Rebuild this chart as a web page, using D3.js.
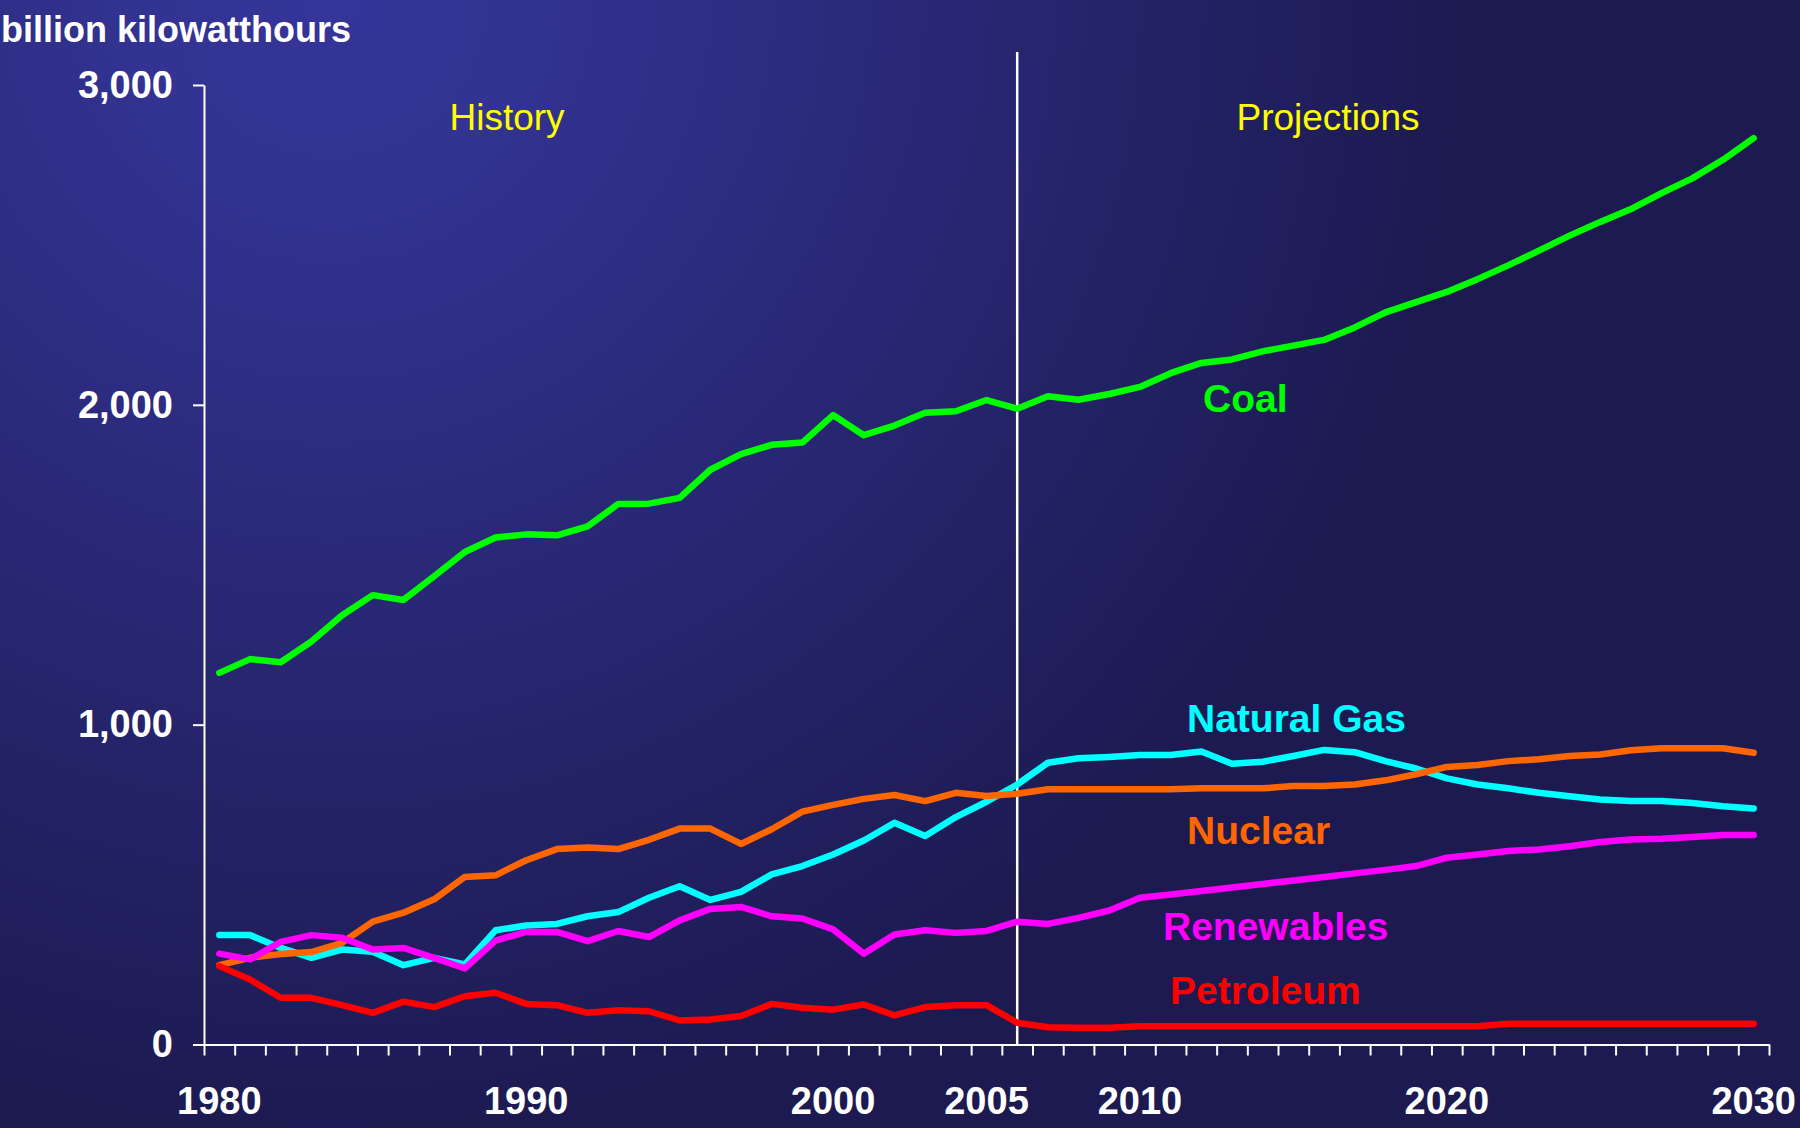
<!DOCTYPE html>
<html>
<head>
<meta charset="utf-8">
<script src="https://cdn.jsdelivr.net/npm/d3@7"></script>
<style>
  body { margin: 0; background: #1c1a50; }
  text { font-family: "Liberation Sans", Arial, Helvetica, sans-serif; }
</style>
</head>
<body>
<svg id="chart"></svg>
<script>
var w = 1800;
var h = 1128;

var years = d3.range(1980, 2031);
var yearLabels = [1980, 1990, 2000, 2005, 2010, 2020, 2030];
var yTicks = [0, 1000, 2000, 3000];

var coal = [1162, 1205, 1195, 1260, 1342, 1405, 1390, 1464, 1540, 1585,
            1595, 1592, 1620, 1690, 1691, 1709, 1797, 1846, 1875, 1882,
            1968, 1905, 1935, 1975, 1980, 2015, 1988, 2027, 2016, 2034,
            2056, 2099, 2131, 2142, 2167, 2185, 2203, 2242, 2289, 2321,
            2353, 2393, 2436, 2482, 2529, 2572, 2612, 2662, 2708, 2766, 2834];
var naturalGas = [342, 342, 302, 271, 297, 290, 248, 271, 250, 357,
                  372, 377, 401, 414, 459, 495, 452, 477, 532, 558,
                  594, 638, 693, 652, 711, 759, 813, 881, 895, 899,
                  905, 905, 916, 878, 884, 902, 921, 914, 886, 863,
                  832, 813, 801, 787, 776, 766, 761, 761, 755, 745, 738];
var nuclear = [248, 271, 283, 289, 318, 384, 412, 454, 524, 529,
               576, 611, 616, 611, 640, 675, 675, 627, 673, 728,
               749, 768, 780, 761, 787, 777, 784, 798, 798, 798,
               798, 798, 801, 801, 801, 808, 808, 813, 826, 845,
               868, 874, 886, 892, 902, 907, 920, 926, 926, 926, 912];
var renewables = [284, 266, 321, 342, 334, 297, 302, 271, 238, 325,
                  352, 352, 323, 355, 336, 388, 424, 430, 401, 394,
                  360, 284, 344, 357, 349, 355, 384, 377, 396, 419,
                  459, 469, 480, 491, 502, 513, 524, 535, 546, 558,
                  584, 594, 605, 610, 620, 633, 641, 643, 649, 655, 655];
var petroleum = [245, 203, 146, 146, 123, 99, 134, 117, 151, 162,
                 127, 123, 99, 107, 104, 75, 78, 89, 127, 115,
                 109, 125, 91, 117, 123, 123, 68, 54, 52, 52,
                 57, 57, 57, 57, 57, 57, 57, 57, 57, 57,
                 57, 57, 65, 65, 65, 65, 65, 65, 65, 65, 65];

var seriesNames = ["Coal", "Natural Gas", "Nuclear", "Renewables", "Petroleum"];
var seriesValues = [coal, naturalGas, nuclear, renewables, petroleum];
var seriesColors = ["#00ff00", "#00ffff", "#ff6600", "#ff00ff", "#ff0000"];

var xLeft = 204, xRight = 1769, yTop = 85, yBottom = 1044.5;

var xScale = d3.scaleBand()
               .domain(years)
               .range([xLeft, xRight])
               .paddingInner(0)
               .paddingOuter(0);

var xEdge = d3.scaleLinear()
              .domain([1979.5, 2030.5])
              .range([xLeft, xRight]);

var yScale = d3.scaleLinear()
               .domain([0, 3000])
               .range([yBottom, yTop]);

function xc(year){
  return xScale(year) + xScale.bandwidth()/2;
}

var svg = d3.select("#chart")
            .attr("width", w)
            .attr("height", h);

// background
var grad = svg.append("defs")
              .append("radialGradient")
              .attr("id", "bg")
              .attr("gradientUnits", "userSpaceOnUse")
              .attr("cx", 330).attr("cy", 0).attr("r", 1150);
grad.append("stop").attr("offset", 0).attr("stop-color", "#35359a");
grad.append("stop").attr("offset", 0.15).attr("stop-color", "#333393");
grad.append("stop").attr("offset", 1).attr("stop-color", "#1c1a50");

svg.append("rect")
   .attr("width", w)
   .attr("height", h)
   .attr("fill", "url(#bg)");

// y axis
var yAxis = d3.axisLeft()
              .scale(yScale)
              .tickValues(yTicks)
              .tickSize(11)
              .tickSizeOuter(0)
              .tickPadding(20)
              .tickFormat(d3.format(","));

svg.append("g")
   .attr("class", "y axis")
   .attr("transform", "translate(" + xLeft + ",0)")
   .call(yAxis);

// x axis: ticks on year boundaries
var xTickAxis = d3.axisBottom()
                  .scale(xEdge)
                  .tickValues(d3.range(1979.5, 2031, 1))
                  .tickSize(11)
                  .tickSizeOuter(0)
                  .tickFormat("");

svg.append("g")
   .attr("class", "x axis")
   .attr("transform", "translate(0," + yBottom + ")")
   .call(xTickAxis);

var xLabelAxis = d3.axisBottom()
                   .scale(xScale)
                   .tickValues(yearLabels)
                   .tickSize(0)
                   .tickPadding(42.5);

svg.append("g")
   .attr("class", "x labels")
   .attr("transform", "translate(0," + yBottom + ")")
   .call(xLabelAxis)
   .call(function(g){ g.select(".domain").remove(); });

svg.selectAll(".axis path, .axis line")
   .attr("stroke", "#ffffff")
   .attr("stroke-width", 2);

svg.selectAll(".axis text, .labels text")
   .attr("fill", "#ffffff")
   .attr("font-size", "38px")
   .attr("font-weight", "bold")
   .attr("font-family", "'Liberation Sans', Arial, sans-serif");

// history / projections divider
svg.append("line")
   .attr("x1", xc(2006))
   .attr("x2", xc(2006))
   .attr("y1", 52)
   .attr("y2", yBottom)
   .attr("stroke", "#ffffff")
   .attr("stroke-width", 2.5);

// lines
var line = d3.line()
             .x(function(d, i){ return xc(years[i]); })
             .y(function(d){ return yScale(d); });

svg.selectAll(".series")
   .data(seriesValues)
   .enter()
   .append("path")
   .attr("class", "series")
   .attr("d", function(d){ return line(d); })
   .attr("fill", "none")
   .attr("stroke", function(d, i){ return seriesColors[i]; })
   .attr("stroke-width", 6.5)
   .attr("stroke-linejoin", "round")
   .attr("stroke-linecap", "round");

// series labels
var labelPos = [[1203, 412], [1187, 732], [1187, 844], [1163, 940], [1170, 1004]];

svg.selectAll(".series-label")
   .data(seriesNames)
   .enter()
   .append("text")
   .attr("class", "series-label")
   .attr("x", function(d, i){ return labelPos[i][0]; })
   .attr("y", function(d, i){ return labelPos[i][1]; })
   .attr("fill", function(d, i){ return seriesColors[i]; })
   .attr("font-size", "39px")
   .attr("font-weight", "bold")
   .text(function(d){ return d; });

svg.append("text")
   .attr("x", 507)
   .attr("y", 130)
   .attr("text-anchor", "middle")
   .attr("fill", "#ffff00")
   .attr("font-size", "37px")
   .text("History");

svg.append("text")
   .attr("x", 1328)
   .attr("y", 130)
   .attr("text-anchor", "middle")
   .attr("fill", "#ffff00")
   .attr("font-size", "37px")
   .text("Projections");

svg.append("text")
   .attr("x", 1)
   .attr("y", 42)
   .attr("fill", "#ffffff")
   .attr("font-size", "36px")
   .attr("font-weight", "bold")
   .text("billion kilowatthours");
</script>
</body>
</html>
